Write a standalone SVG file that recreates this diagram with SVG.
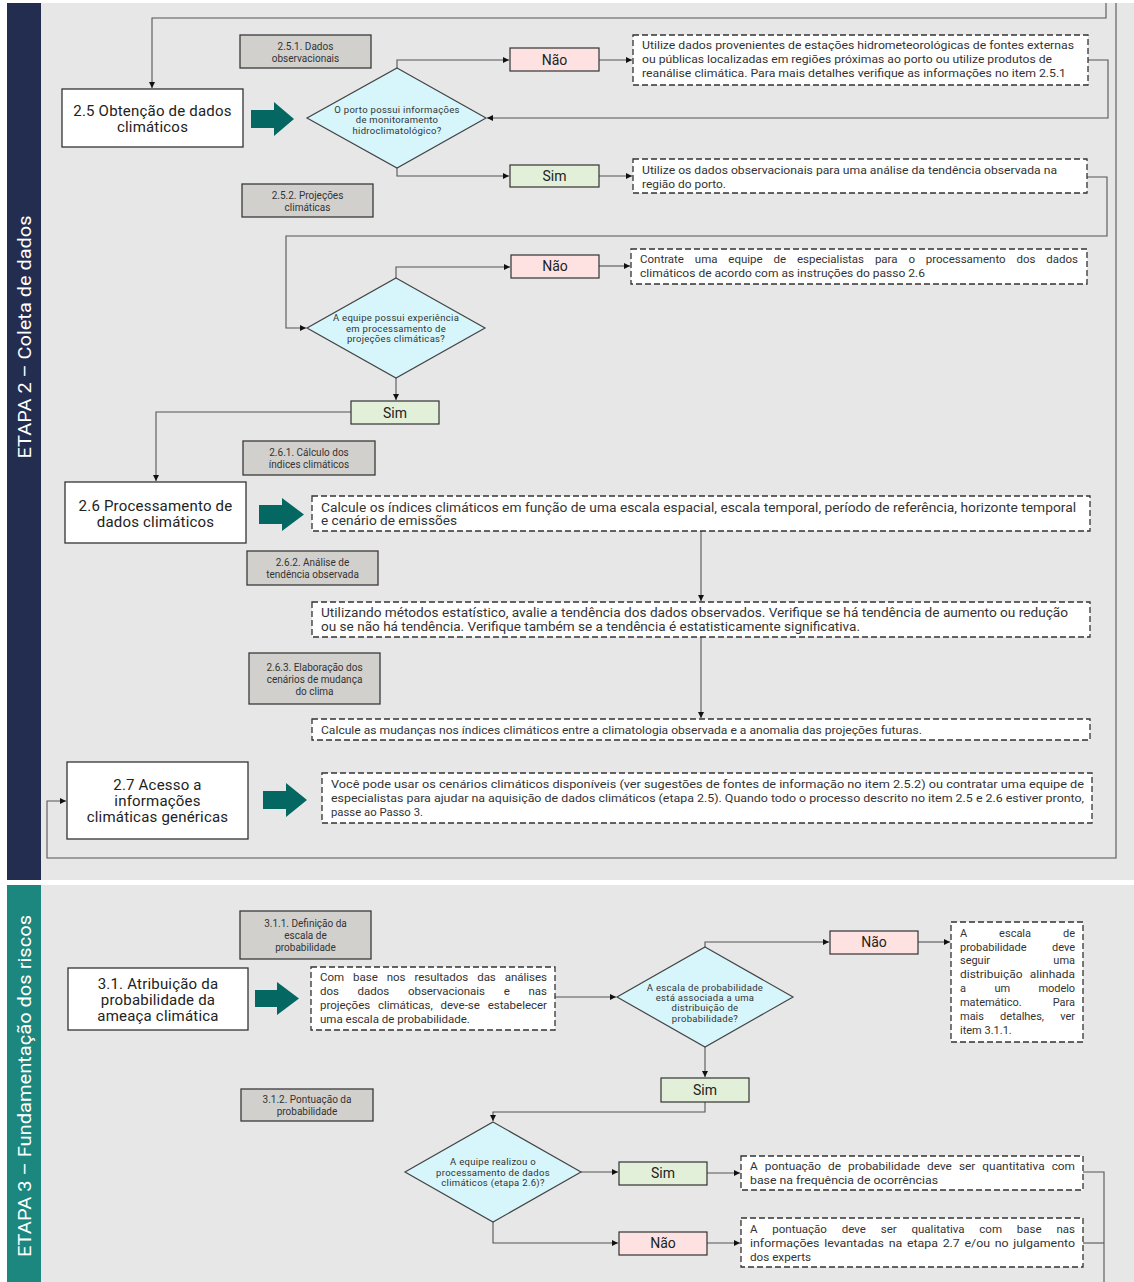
<svg xmlns="http://www.w3.org/2000/svg" width="1134" height="1282" viewBox="0 0 1134 1282">
<style>
.bg{fill:#e7e7e7}
.lbl{fill:#d1d0cd;stroke:#3a3a3a;stroke-width:1.3}
.main{fill:#fff;stroke:#333;stroke-width:1.3}
.dash{fill:#fff;stroke:#333;stroke-width:1.3;stroke-dasharray:6 3}
.dia{fill:#d6f6fb;stroke:#444;stroke-width:1.2}
.no{fill:#fde2e1;stroke:#333;stroke-width:1.2}
.yes{fill:#e3f0d9;stroke:#333;stroke-width:1.2}
.conn{fill:none;stroke:#555;stroke-width:1.1}
.tarrow{fill:#046761}
text{font-family:Roboto,"Liberation Sans",sans-serif;fill:#222}
.t15{font-size:15px;text-anchor:middle;letter-spacing:0.2px}
.t14{font-size:14px;text-anchor:middle}
.t10{font-size:10px;text-anchor:middle;fill:#333}
.t9{font-size:9.5px;text-anchor:middle;fill:#333;letter-spacing:0.3px}
.t11{font-size:11px;fill:#333}
.t115{font-size:11.5px;fill:#333}
.t12{font-size:12px;fill:#333}
.etapa{font-size:18px;fill:#fff;text-anchor:middle}
</style>
<defs>
<marker id="ah" viewBox="0 0 10 10" refX="10" refY="5" markerWidth="6" markerHeight="6" orient="auto" markerUnits="userSpaceOnUse">
<path d="M0,0 L10,5 L0,10 Z" fill="#111"/>
</marker>
</defs>

<!-- backgrounds -->
<rect x="0" y="0" width="1134" height="1282" fill="#fff"/>
<rect class="bg" x="41" y="3" width="1093" height="877"/>
<rect x="7" y="3" width="34" height="877" fill="#232d4f"/>
<rect class="bg" x="41" y="885" width="1093" height="397"/>
<rect x="7" y="885" width="34" height="397" fill="#1b877f"/>
<g id="etapa2-label"><text class="etapa" transform="translate(31,337) rotate(-90)" textLength="243" lengthAdjust="spacingAndGlyphs">ETAPA 2 – Coleta de dados</text></g>
<g id="etapa3-label"><text class="etapa" transform="translate(31,1086) rotate(-90)" textLength="342" lengthAdjust="spacingAndGlyphs">ETAPA 3 – Fundamentação dos riscos</text></g>

<!-- connectors -->
<g id="connectors">
<path class="conn" d="M1106,3 V18 H152 V88" marker-end="url(#ah)"/>
<path class="conn" d="M1116,3 V858 H47 V801 H66" marker-end="url(#ah)"/>
<path class="conn" d="M397,68 V60 H509" marker-end="url(#ah)"/>
<path class="conn" d="M599,60 H632" marker-end="url(#ah)"/>
<path class="conn" d="M1088,60 H1108 V118 H487" marker-end="url(#ah)"/>
<path class="conn" d="M397,168 V176 H509" marker-end="url(#ah)"/>
<path class="conn" d="M599,176 H632" marker-end="url(#ah)"/>
<path class="conn" d="M1087,177 H1107 V236 H286 V328 H306" marker-end="url(#ah)"/>
<path class="conn" d="M396,278 V267 H510" marker-end="url(#ah)"/>
<path class="conn" d="M599,266 H630" marker-end="url(#ah)"/>
<path class="conn" d="M396,378 V400" marker-end="url(#ah)"/>
<path class="conn" d="M351,412 H156 V481" marker-end="url(#ah)"/>
<path class="conn" d="M701,531 V601" marker-end="url(#ah)"/>
<path class="conn" d="M701,637 V718" marker-end="url(#ah)"/>
<path class="conn" d="M555,997 H616" marker-end="url(#ah)"/>
<path class="conn" d="M705,947 V942 H829" marker-end="url(#ah)"/>
<path class="conn" d="M918,942 H950" marker-end="url(#ah)"/>
<path class="conn" d="M705,1047 V1077" marker-end="url(#ah)"/>
<path class="conn" d="M705,1102 V1112 H493 V1121" marker-end="url(#ah)"/>
<path class="conn" d="M581,1172 H618" marker-end="url(#ah)"/>
<path class="conn" d="M707,1173 H740" marker-end="url(#ah)"/>
<path class="conn" d="M1083,1172 H1104 V1282"/>
<path class="conn" d="M493,1222 V1243 H618" marker-end="url(#ah)"/>
<path class="conn" d="M707,1243 H740" marker-end="url(#ah)"/>
<path class="conn" d="M1083,1243 H1104"/>
</g>

<!-- ETAPA 2 nodes -->
<g id="box-2-5">
<rect class="main" x="62" y="89" width="181" height="58"/>
<text class="t15" x="152.5" y="116">2.5 Obtenção de dados</text>
<text class="t15" x="152.5" y="132">climáticos</text>
</g>
<g id="arrow-2-5"><path class="tarrow" d="M251,110 H274 V102 L294,119 L274,136 V128 H251 Z"/></g>
<g id="lbl-2-5-1">
<rect class="lbl" x="240" y="35" width="131" height="33"/>
<text class="t10" x="305.5" y="50">2.5.1. Dados</text>
<text class="t10" x="305.5" y="62">observacionais</text>
</g>
<g id="dia-1">
<polygon class="dia" points="397,68 486,118 397,168 307,118"/>
<text class="t9" x="397" y="113">O porto possui informações</text>
<text class="t9" x="397" y="123">de monitoramento</text>
<text class="t9" x="397" y="134">hidroclimatológico?</text>
</g>
<g id="nao-1">
<rect class="no" x="510" y="48" width="89" height="23"/>
<text class="t14" x="554.5" y="65">Não</text>
</g>
<g id="txt-2-5-nao">
<rect class="dash" x="633" y="35" width="455" height="50"/>
<text class="t11" x="642" y="49" textLength="432" lengthAdjust="spacingAndGlyphs">Utilize dados provenientes de estações hidrometeorológicas de fontes externas</text>
<text class="t11" x="642" y="63" textLength="410" lengthAdjust="spacingAndGlyphs">ou públicas localizadas em regiões próximas ao porto ou utilize produtos de</text>
<text class="t11" x="642" y="77" textLength="424" lengthAdjust="spacingAndGlyphs">reanálise climática. Para mais detalhes verifique as informações no item 2.5.1</text>
</g>
<g id="sim-1">
<rect class="yes" x="510" y="165" width="89" height="22"/>
<text class="t14" x="554.5" y="181">Sim</text>
</g>
<g id="txt-2-5-sim">
<rect class="dash" x="633" y="159" width="454" height="34"/>
<text class="t11" x="642" y="174" textLength="415" lengthAdjust="spacingAndGlyphs">Utilize os dados observacionais para uma análise da tendência observada na</text>
<text class="t11" x="642" y="188" textLength="84" lengthAdjust="spacingAndGlyphs">região do porto.</text>
</g>
<g id="lbl-2-5-2">
<rect class="lbl" x="242" y="184" width="131" height="33"/>
<text class="t10" x="307.5" y="199">2.5.2. Projeções</text>
<text class="t10" x="307.5" y="211">climáticas</text>
</g>
<g id="dia-2">
<polygon class="dia" points="396,278 485,328 396,378 307,328"/>
<text class="t9" x="396" y="321">A equipe possui experiência</text>
<text class="t9" x="396" y="332">em processamento de</text>
<text class="t9" x="396" y="342">projeções climáticas?</text>
</g>
<g id="nao-2">
<rect class="no" x="511" y="255" width="88" height="23"/>
<text class="t14" x="555" y="271">Não</text>
</g>
<g id="txt-2-5-contrate">
<rect class="dash" x="631" y="249" width="456" height="35"/>
<text class="t115" x="640" y="263" word-spacing="8" textLength="438">Contrate uma equipe de especialistas para o processamento dos dados</text>
<text class="t115" x="640" y="277" textLength="285" lengthAdjust="spacingAndGlyphs">climáticos de acordo com as instruções do passo 2.6</text>
</g>
<g id="sim-2">
<rect class="yes" x="351" y="401" width="88" height="23"/>
<text class="t14" x="395" y="418">Sim</text>
</g>
<g id="lbl-2-6-1">
<rect class="lbl" x="243" y="441" width="132" height="34"/>
<text class="t10" x="309" y="456">2.6.1. Cálculo dos</text>
<text class="t10" x="309" y="468">índices climáticos</text>
</g>
<g id="box-2-6">
<rect class="main" x="65" y="482" width="181" height="61"/>
<text class="t15" x="155.5" y="511">2.6 Processamento de</text>
<text class="t15" x="155.5" y="527">dados climáticos</text>
</g>
<g id="arrow-2-6"><path class="tarrow" d="M259,505 H282 V498 L304,514.5 L282,531 V524 H259 Z"/></g>
<g id="txt-2-6-1">
<rect class="dash" x="312" y="496" width="778" height="35"/>
<text class="t12" x="321" y="512" textLength="755" lengthAdjust="spacingAndGlyphs">Calcule os índices climáticos em função de uma escala espacial, escala temporal, período de referência, horizonte temporal</text>
<text class="t12" x="321" y="525" textLength="136" lengthAdjust="spacingAndGlyphs">e cenário de emissões</text>
</g>
<g id="lbl-2-6-2">
<rect class="lbl" x="247" y="551" width="131" height="34"/>
<text class="t10" x="312.5" y="566">2.6.2. Análise de</text>
<text class="t10" x="312.5" y="578">tendência observada</text>
</g>
<g id="txt-2-6-2">
<rect class="dash" x="312" y="602" width="778" height="35"/>
<text class="t12" x="321" y="617" textLength="747" lengthAdjust="spacingAndGlyphs">Utilizando métodos estatístico, avalie a tendência dos dados observados. Verifique se há tendência de aumento ou redução</text>
<text class="t12" x="321" y="631" textLength="539" lengthAdjust="spacingAndGlyphs">ou se não há tendência. Verifique também se a tendência é estatisticamente significativa.</text>
</g>
<g id="lbl-2-6-3">
<rect class="lbl" x="249" y="653" width="131" height="51"/>
<text class="t10" x="314.5" y="671">2.6.3. Elaboração dos</text>
<text class="t10" x="314.5" y="683">cenários de mudança</text>
<text class="t10" x="314.5" y="695">do clima</text>
</g>
<g id="txt-2-6-3">
<rect class="dash" x="312" y="719" width="778" height="21"/>
<text class="t11" x="321" y="734" textLength="601" lengthAdjust="spacingAndGlyphs">Calcule as mudanças nos índices climáticos entre a climatologia observada e a anomalia das projeções futuras.</text>
</g>
<g id="box-2-7">
<rect class="main" x="67" y="762" width="181" height="77"/>
<text class="t15" x="157.5" y="790">2.7 Acesso a</text>
<text class="t15" x="157.5" y="806">informações</text>
<text class="t15" x="157.5" y="822">climáticas genéricas</text>
</g>
<g id="arrow-2-7"><path class="tarrow" d="M263,791 H286 V783 L307,800 L286,817 V809 H263 Z"/></g>
<g id="txt-2-7">
<rect class="dash" x="322" y="773" width="770" height="50"/>
<text class="t11" x="331" y="788" textLength="753" lengthAdjust="spacingAndGlyphs">Você pode usar os cenários climáticos disponíveis (ver sugestões de fontes de informação no item 2.5.2) ou contratar uma equipe de</text>
<text class="t11" x="331" y="802" textLength="753" lengthAdjust="spacingAndGlyphs">especialistas para ajudar na aquisição de dados climáticos (etapa 2.5). Quando todo o processo descrito no item 2.5 e 2.6 estiver pronto,</text>
<text class="t11" x="331" y="816" textLength="92" lengthAdjust="spacingAndGlyphs">passe ao Passo 3.</text>
</g>

<!-- ETAPA 3 nodes -->
<g id="lbl-3-1-1">
<rect class="lbl" x="240" y="911" width="131" height="48"/>
<text class="t10" x="305.5" y="927">3.1.1. Definição da</text>
<text class="t10" x="305.5" y="939">escala de</text>
<text class="t10" x="305.5" y="951">probabilidade</text>
</g>
<g id="box-3-1">
<rect class="main" x="68" y="968" width="180" height="62"/>
<text class="t15" x="158" y="989">3.1. Atribuição da</text>
<text class="t15" x="158" y="1005">probabilidade da</text>
<text class="t15" x="158" y="1021">ameaça climática</text>
</g>
<g id="arrow-3-1"><path class="tarrow" d="M255,990 H277 V982 L299,998.5 L277,1015 V1007 H255 Z"/></g>
<g id="txt-3-1">
<rect class="dash" x="311" y="967" width="244" height="63"/>
<text class="t115" x="320" y="981" word-spacing="6.2" textLength="227">Com base nos resultados das análises</text>
<text class="t115" x="320" y="995" word-spacing="15.9" textLength="227">dos dados observacionais e nas</text>
<text class="t115" x="320" y="1009" word-spacing="5" textLength="227">projeções climáticas, deve-se estabelecer</text>
<text class="t115" x="320" y="1023">uma escala de probabilidade.</text>
</g>
<g id="dia-3">
<polygon class="dia" points="705,947 793,997 705,1047 617,997"/>
<text class="t9" x="705" y="991">A escala de probabilidade</text>
<text class="t9" x="705" y="1001">está associada a uma</text>
<text class="t9" x="705" y="1011">distribuição de</text>
<text class="t9" x="705" y="1022">probabilidade?</text>
</g>
<g id="nao-3">
<rect class="no" x="830" y="931" width="88" height="23"/>
<text class="t14" x="874" y="947">Não</text>
</g>
<g id="txt-3-1-nao">
<rect class="dash" x="951" y="922" width="132" height="120"/>
<text class="t11" x="960" y="937" word-spacing="29.2" textLength="115">A escala de</text>
<text class="t11" x="960" y="951" word-spacing="22.6" textLength="115">probabilidade deve</text>
<text class="t11" x="960" y="964" word-spacing="60.7" textLength="115">seguir uma</text>
<text class="t11" x="960" y="978" word-spacing="4" textLength="115" lengthAdjust="spacingAndGlyphs">distribuição alinhada</text>
<text class="t11" x="960" y="992" word-spacing="25.9" textLength="115">a um modelo</text>
<text class="t11" x="960" y="1006" word-spacing="28.4" textLength="115">matemático. Para</text>
<text class="t11" x="960" y="1020" word-spacing="13.5" textLength="115">mais detalhes, ver</text>
<text class="t11" x="960" y="1034">item 3.1.1.</text>
</g>
<g id="sim-3">
<rect class="yes" x="661" y="1078" width="88" height="24"/>
<text class="t14" x="705" y="1095">Sim</text>
</g>
<g id="lbl-3-1-2">
<rect class="lbl" x="241" y="1089" width="132" height="32"/>
<text class="t10" x="307" y="1103">3.1.2. Pontuação da</text>
<text class="t10" x="307" y="1115">probabilidade</text>
</g>
<g id="dia-4">
<polygon class="dia" points="493,1122 581,1172 493,1222 405,1172"/>
<text class="t9" x="493" y="1165">A equipe realizou o</text>
<text class="t9" x="493" y="1176">processamento de dados</text>
<text class="t9" x="493" y="1186">climáticos (etapa 2.6)?</text>
</g>
<g id="sim-4">
<rect class="yes" x="619" y="1162" width="88" height="23"/>
<text class="t14" x="663" y="1178">Sim</text>
</g>
<g id="txt-3-1-sim">
<rect class="dash" x="741" y="1156" width="342" height="34"/>
<text class="t115" x="750" y="1170" word-spacing="4" textLength="325" lengthAdjust="spacingAndGlyphs">A pontuação de probabilidade deve ser quantitativa com</text>
<text class="t115" x="750" y="1184" textLength="188" lengthAdjust="spacingAndGlyphs">base na frequência de ocorrências</text>
</g>
<g id="nao-4">
<rect class="no" x="619" y="1232" width="88" height="23"/>
<text class="t14" x="663" y="1248">Não</text>
</g>
<g id="txt-3-1-nao2">
<rect class="dash" x="741" y="1218" width="342" height="49"/>
<text class="t115" x="750" y="1233" word-spacing="12" textLength="325">A pontuação deve ser qualitativa com base nas</text>
<text class="t115" x="750" y="1247" word-spacing="1.5" textLength="325" lengthAdjust="spacingAndGlyphs">informações levantadas na etapa 2.7 e/ou no julgamento</text>
<text class="t115" x="750" y="1261" textLength="61" lengthAdjust="spacingAndGlyphs">dos experts</text>
</g>
</svg>
